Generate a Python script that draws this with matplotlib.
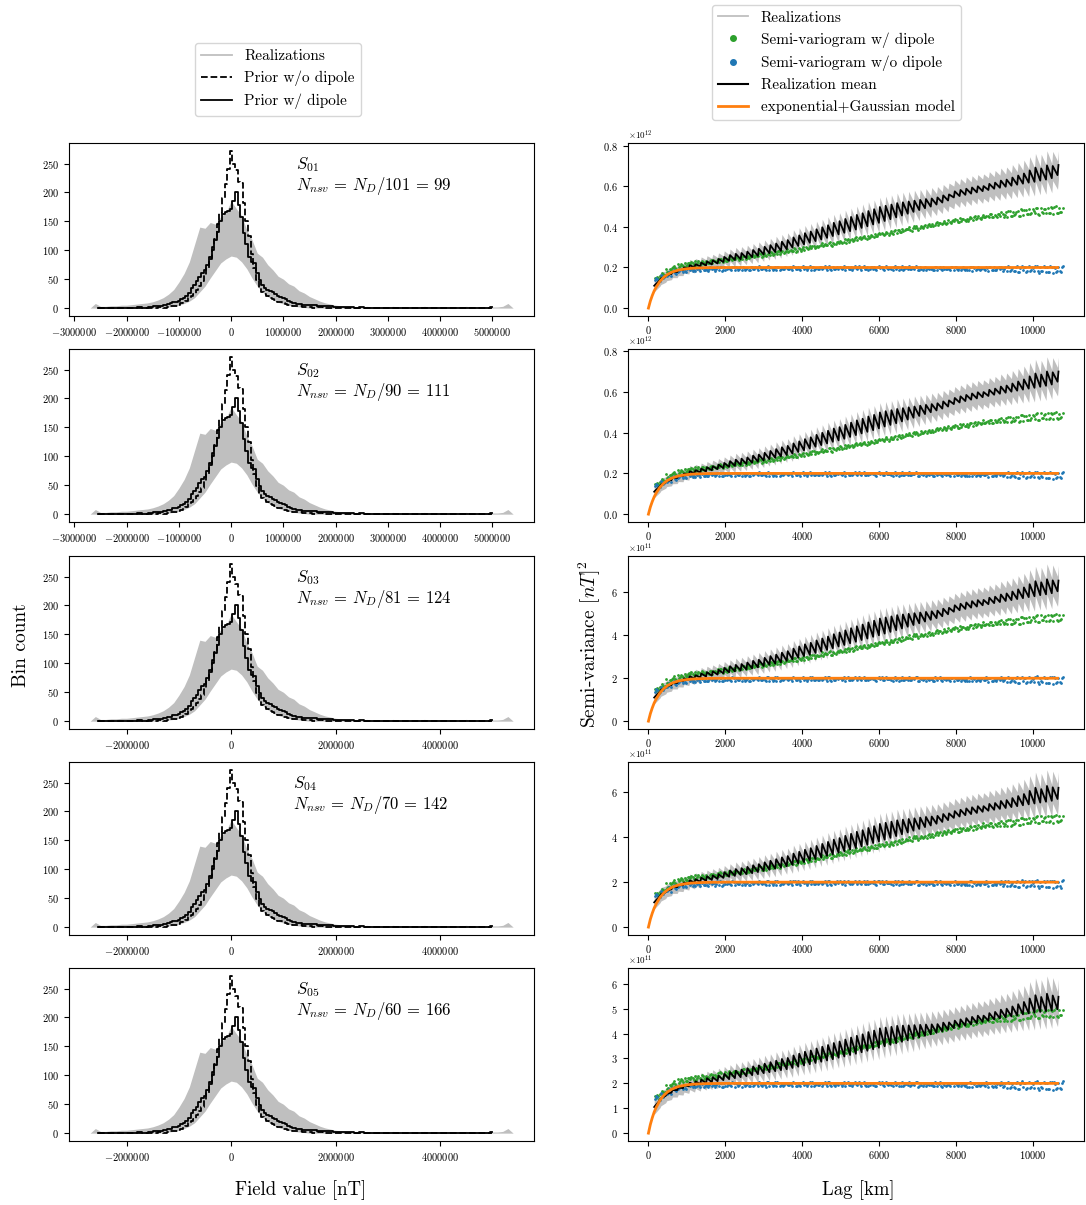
import numpy as np
import matplotlib
matplotlib.use("Agg")
import matplotlib.pyplot as plt
from matplotlib.lines import Line2D

plt.rcParams['font.family'] = 'serif'
plt.rcParams['font.serif'] = ['cmr10']
plt.rcParams['mathtext.fontset'] = 'cm'
plt.rcParams['axes.formatter.use_mathtext'] = True

# --- 1. Data: histograms of field values (left column) ---
# bin centres in 1e4 nT: coarse left tail, fine core, coarse right tail
HIST_X = np.concatenate([np.arange(-255, -124, 10),
                         np.arange(-120, 121, 5),
                         np.arange(130, 501, 10)]) * 1e4

PRIOR_NO_DIPOLE = (
    [0, 0, 0, 1, 0, 0, 1, 0, 1, 0, 1, 1, 2, 1] +
    [2, 3, 3, 4, 6, 8, 10, 13, 17, 21, 25, 32, 38, 46, 58, 70, 85, 100, 120, 145,
     165, 190, 215, 240, 272, 250, 238, 218, 216, 182, 150, 125, 94, 70, 48, 35, 28, 24, 21, 18,
     16, 14, 11, 10, 8, 7, 5, 5, 4] +
    [3, 2, 2, 1, 2, 1, 1, 1, 0, 1, 0, 1, 0, 0, 1, 0, 0, 1, 0, 0,
     0, 1, 0, 0, 0, 1, 0, 0, 0, 0, 1, 0, 0, 0, 0, 1, 0, 1]
)
PRIOR_DIPOLE = (
    [0, 0, 1, 1, 0, 1, 1, 1, 2, 1, 2, 3, 4, 5] +
    [7, 8, 10, 11, 13, 15, 18, 21, 26, 34, 40, 46, 54, 60, 65, 75, 88, 105, 118, 132,
     150, 162, 166, 168, 172, 185, 200, 178, 158, 130, 110, 88, 80, 78, 60, 48, 40, 35, 32, 30,
     27, 24, 21, 19, 17, 15, 12, 10, 9] +
    [7, 6, 5, 5, 4, 3, 3, 2, 2, 2, 2, 1, 2, 1, 1, 1, 1, 1, 1, 1,
     0, 1, 1, 1, 0, 1, 1, 0, 1, 1, 1, 0, 1, 1, 0, 1, 1, 2]
)

# realization envelope, bins of 1e5 nT from -2.7e6 to 5.4e6
REAL_X = np.arange(-270, 541, 10) * 1e4
REAL_HI = (
    [0, 8, 3, 3, 4, 4, 5, 5, 6, 7, 8, 9, 11, 14, 18, 24, 32, 45, 60, 80,
     110, 140, 138, 148, 145, 158, 165, 185, 172, 160, 135, 118, 95, 88, 75, 66, 55, 50, 42, 38,
     30, 26, 20, 16, 12, 9, 7, 5, 4, 3, 3] +
    [2, 2, 3, 2, 2, 2, 2, 3, 2, 2, 2, 2, 2, 3, 2, 2, 2, 2, 2, 2,
     2, 3, 2, 2, 2, 2, 2, 2, 3] +
    [8, 0]
)
REAL_LO = (
    [0] * 14 +
    [1, 2, 3, 5, 8, 12, 18, 28, 38, 52, 65, 78, 85, 90, 88, 80, 68, 52, 38, 28,
     20, 14, 10, 7, 5, 3, 2, 1] +
    [0] * 40
)

# --- 2. Data: semi-variograms (right column), values in 1e11 nT^2 ---
LAG = np.arange(150, 10651, 150)

MEAN_S01 = [1.10, 1.38, 1.55, 1.68, 1.78, 1.88, 1.96, 2.01, 2.06, 2.10,
            2.15, 2.20, 2.27, 2.33, 2.37, 2.41, 2.46, 2.51, 2.57, 2.64,
            2.70, 2.76, 2.82, 2.90, 2.98, 3.06, 3.14, 3.22, 3.30, 3.38,
            3.46, 3.55, 3.63, 3.71, 3.79, 3.87, 3.95, 4.03, 4.12, 4.20,
            4.29, 4.38, 4.47, 4.56, 4.65, 4.74, 4.83, 4.92, 5.00, 5.10,
            5.20, 5.30, 5.45, 5.52, 5.58, 5.64, 5.70, 5.76, 5.82, 5.88,
            5.93, 5.98, 6.03, 6.08, 6.13, 6.18, 6.22, 6.28, 6.33, 6.40,
            6.55]
MEAN_S02 = [1.10, 1.37, 1.55, 1.67, 1.78, 1.87, 1.95, 2.01, 2.05, 2.10,
            2.15, 2.21, 2.26, 2.32, 2.37, 2.42, 2.46, 2.52, 2.57, 2.63,
            2.70, 2.77, 2.83, 2.90, 2.97, 3.05, 3.13, 3.22, 3.31, 3.39,
            3.47, 3.55, 3.62, 3.70, 3.79, 3.88, 3.96, 4.04, 4.12, 4.21,
            4.30, 4.38, 4.46, 4.55, 4.64, 4.73, 4.82, 4.91, 5.00, 5.09,
            5.18, 5.28, 5.40, 5.48, 5.55, 5.62, 5.68, 5.74, 5.80, 5.86,
            5.91, 5.96, 6.01, 6.06, 6.11, 6.16, 6.20, 6.25, 6.30, 6.36,
            6.50]
MEAN_S03 = [1.10, 1.38, 1.55, 1.68, 1.78, 1.87, 1.94, 1.99, 2.04, 2.08,
            2.12, 2.17, 2.23, 2.28, 2.32, 2.36, 2.41, 2.46, 2.51, 2.57,
            2.63, 2.68, 2.74, 2.81, 2.88, 2.96, 3.03, 3.10, 3.18, 3.25,
            3.32, 3.40, 3.48, 3.55, 3.63, 3.70, 3.78, 3.85, 3.93, 4.00,
            4.08, 4.16, 4.24, 4.32, 4.40, 4.48, 4.56, 4.64, 4.72, 4.80,
            4.89, 4.98, 5.10, 5.17, 5.23, 5.29, 5.34, 5.40, 5.45, 5.50,
            5.55, 5.60, 5.64, 5.69, 5.73, 5.78, 5.82, 5.87, 5.91, 5.96,
            6.05]
MEAN_S04 = [1.10, 1.38, 1.55, 1.68, 1.78, 1.86, 1.93, 1.98, 2.02, 2.06,
            2.10, 2.14, 2.19, 2.24, 2.28, 2.32, 2.36, 2.40, 2.45, 2.50,
            2.55, 2.60, 2.65, 2.71, 2.77, 2.83, 2.89, 2.96, 3.03, 3.10,
            3.17, 3.24, 3.31, 3.38, 3.45, 3.52, 3.59, 3.66, 3.74, 3.81,
            3.89, 3.97, 4.05, 4.13, 4.21, 4.29, 4.37, 4.45, 4.52, 4.60,
            4.68, 4.76, 4.86, 4.92, 4.98, 5.03, 5.08, 5.13, 5.18, 5.22,
            5.26, 5.30, 5.34, 5.38, 5.42, 5.46, 5.50, 5.54, 5.58, 5.62,
            5.70]
MEAN_S05 = [1.05, 1.32, 1.50, 1.63, 1.73, 1.81, 1.88, 1.93, 1.97, 2.01,
            2.05, 2.09, 2.13, 2.17, 2.21, 2.25, 2.29, 2.33, 2.37, 2.41,
            2.45, 2.49, 2.53, 2.57, 2.62, 2.67, 2.72, 2.77, 2.82, 2.87,
            2.92, 2.97, 3.03, 3.08, 3.14, 3.19, 3.25, 3.31, 3.37, 3.43,
            3.49, 3.55, 3.61, 3.67, 3.73, 3.79, 3.85, 3.91, 3.97, 4.03,
            4.09, 4.15, 4.22, 4.27, 4.32, 4.37, 4.42, 4.47, 4.52, 4.57,
            4.61, 4.65, 4.69, 4.73, 4.77, 4.81, 4.84, 4.87, 4.90, 4.93,
            4.98]

# height of the periodic teeth on the realization mean
MEAN_TEETH = [0.05, 0.08, 0.08, 0.10, 0.10, 0.12,
              0.15, 0.15, 0.18, 0.20, 0.20, 0.22, 0.25,
              0.28, 0.30, 0.30, 0.32, 0.35, 0.35, 0.38,
              0.40, 0.42, 0.45, 0.45, 0.50, 0.52, 0.55,
              0.55, 0.58, 0.60, 0.62, 0.65, 0.65, 0.68,
              0.70, 0.72, 0.72, 0.75, 0.75, 0.78, 0.75,
              0.72, 0.70, 0.65, 0.60, 0.55, 0.50, 0.45,
              0.40, 0.35, 0.35, 0.30, 0.30, 0.30, 0.30,
              0.30, 0.30, 0.25, 0.30, 0.30, 0.35, 0.35,
              0.40, 0.45, 0.50, 0.60, 0.70, 0.60, 0.70,
              0.60, 0.50]

# half-width of the realization spread around the mean
REAL_SPREAD = [0.30, 0.30, 0.28, 0.28, 0.28, 0.28, 0.28, 0.28, 0.28, 0.28,
               0.30, 0.30, 0.30, 0.30, 0.32, 0.32, 0.32, 0.32, 0.34, 0.34,
               0.34, 0.36, 0.36, 0.36, 0.38, 0.38, 0.38, 0.40, 0.40, 0.40,
               0.42, 0.42, 0.42, 0.44, 0.44, 0.44, 0.46, 0.46, 0.46, 0.48,
               0.48, 0.48, 0.50, 0.50, 0.50, 0.52, 0.52, 0.52, 0.54, 0.54,
               0.54, 0.56, 0.56, 0.56, 0.58, 0.58, 0.58, 0.60, 0.60, 0.60,
               0.62, 0.62, 0.64, 0.64, 0.66, 0.68, 0.70, 0.70, 0.72, 0.72,
               0.70]

SV_DIPOLE = [1.45, 1.65, 1.85, 2.00, 2.10, 2.15, 2.20, 2.22, 2.25, 2.28,
             2.31, 2.35, 2.38, 2.42, 2.45, 2.49, 2.53, 2.57, 2.61, 2.65,
             2.69, 2.73, 2.77, 2.82, 2.86, 2.91, 2.96, 3.01, 3.06, 3.11,
             3.16, 3.21, 3.27, 3.32, 3.37, 3.43, 3.48, 3.53, 3.59, 3.64,
             3.69, 3.75, 3.80, 3.86, 3.91, 3.96, 4.01, 4.06, 4.11, 4.16,
             4.21, 4.26, 4.30, 4.35, 4.39, 4.43, 4.47, 4.51, 4.55, 4.58,
             4.61, 4.64, 4.67, 4.70, 4.73, 4.75, 4.78, 4.80, 4.82, 4.83,
             4.84]
SV_NO_DIPOLE = [1.40, 1.55, 1.68, 1.78, 1.85, 1.89, 1.91, 1.92, 1.93, 1.93,
                1.94, 1.94, 1.94, 1.95, 1.95, 1.95, 1.95, 1.96, 1.96, 1.96,
                1.96, 1.96, 1.96, 1.96, 1.97, 1.97, 1.97, 1.97, 1.97, 1.97,
                1.97, 1.97, 1.98, 1.98, 1.98, 1.98, 1.98, 1.98, 1.97, 1.97,
                1.97, 1.97, 1.97, 1.96, 1.96, 1.96, 1.96, 1.96, 1.96, 1.95,
                1.95, 1.95, 1.95, 1.95, 1.95, 1.94, 1.94, 1.94, 1.94, 1.94,
                1.94, 1.94, 1.93, 1.93, 1.93, 1.92, 1.92, 1.92, 1.91, 1.91,
                1.92]

# scatter of the individual semi-variogram points about the curves (1e9 nT^2)
SCATTER_A = [5, -8, 10, -4, 6, -10, 3, 8, -6, 2,
             -9, 7, -3, 9, -5, 1, -7, 6, -2, 8,
             -8, 4, -1, 7, -6, 3, -9, 5, -3, 9,
             -4, 2, -7, 6, -1, 8, -5, 3, -8, 7,
             -2, 5, -9, 4, -3, 8, -6, 1, -7, 9,
             -4, 6, -2, 7, -8, 3, -5, 10, -6, 2,
             -9, 8, -12, 6, -14, 11, -9, 15, -13, 8,
             -16]
SCATTER_B = [-3, 6, -9, 2, -7, 5, -2, -8, 7, -4,
             4, -6, 8, -2, 6, -8, 3, -5, 9, -3,
             6, -7, 2, -4, 8, -2, 5, -7, 1, -6,
             7, -3, 5, -9, 4, -6, 2, -8, 6, -1,
             8, -4, 3, -6, 9, -1, 5, -8, 2, -5,
             7, -3, 8, -6, 1, -9, 6, -2, 7, -4,
             10, -13, 5, -16, 9, -11, 14, -7, 12, -18,
             9]
SCATTER_C = [8, 1, -5, 9, -2, -6, 7, -1, 4, -8,
             1, 9, -4, -7, 2, 7, -6, -1, 5, -9,
             2, 8, -5, -1, 6, -8, 1, 7, -4, 0,
             9, -6, 1, 4, -8, 2, 7, -3, -6, 5,
             1, -8, 6, -2, -5, 9, -1, 3, -8, 4,
             0, -7, 5, 2, -9, 6, -1, -4, 8, -7,
             3, 12, -8, -15, 10, -5, 17, -10, -14, 13,
             -11]

MODEL_LAG = [0, 50, 100, 150, 200, 300, 400, 500, 600, 700, 800, 1000,
             1200, 1500, 2000, 4000, 6000, 8000, 10000, 10650]
MODEL_SV = [0.0, 0.35, 0.62, 0.85, 1.03, 1.32, 1.52, 1.66, 1.76, 1.83, 1.88, 1.94,
            1.97, 1.99, 2.0, 2.0, 2.0, 2.0, 2.0, 2.0]

PANEL_IDS = ['01', '02', '03', '04', '05']
DIVISORS = [101, 90, 81, 70, 60]
N_NSV = [99, 111, 124, 142, 166]
MEANS = [MEAN_S01, MEAN_S02, MEAN_S03, MEAN_S04, MEAN_S05]

GREY = '#bfbfbf'
GREEN = '#2ca02c'
BLUE = '#1f77b4'
ORANGE = '#ff7f0e'

# --- 3. Figure layout ---
fig = plt.figure(figsize=(10.86, 12.05), dpi=100)
row_bottoms = [0.7378, 0.5668, 0.3950, 0.2241, 0.0531]
row_h = 0.1436

green_rows = [(10, SCATTER_A, 1), (40, SCATTER_B, 1), (70, SCATTER_C, 1),
              (100, SCATTER_B, -1), (130, SCATTER_C, -1)]
blue_rows = [(25, SCATTER_B, 1), (55, SCATTER_C, 1), (85, SCATTER_A, 1),
             (115, SCATTER_C, -1), (145, SCATTER_A, -1)]

for i in range(5):
    axl = fig.add_axes([0.0635, row_bottoms[i], 0.4285, row_h])
    axr = fig.add_axes([0.578, row_bottoms[i], 0.42, row_h])

    # left: histograms
    axl.fill_between(REAL_X, REAL_LO, REAL_HI, color=GREY, lw=0)
    axl.plot(HIST_X, PRIOR_NO_DIPOLE, color='k', ls='--', lw=1.3, drawstyle='steps-mid')
    axl.plot(HIST_X, PRIOR_DIPOLE, color='k', ls='-', lw=1.3, drawstyle='steps-mid')
    if i < 2:
        axl.set_xticks(np.arange(-3, 6) * 1e6)
    else:
        axl.set_xticks([-2e6, 0, 2e6, 4e6])
    axl.set_yticks([0, 50, 100, 150, 200, 250])
    axl.ticklabel_format(axis='x', style='plain', useOffset=False)
    axl.tick_params(labelsize=7.5)
    tx = 0.482 if i == 3 else 0.488
    axl.text(tx, 0.93, r"$S_{%s}$" % PANEL_IDS[i] + "\n" +
             r"$N_{nsv}\,=\,N_D/%d\,=\,%d$" % (DIVISORS[i], N_NSV[i]),
             transform=axl.transAxes, va='top', ha='left', fontsize=12, linespacing=1.05)

    # right: semi-variograms
    base = np.array(MEANS[i])
    x_mean = np.column_stack([LAG, LAG + 25]).ravel()
    y_mean = np.column_stack([base, base + np.array(MEAN_TEETH)]).ravel() * 1e11
    spread = np.repeat(REAL_SPREAD, 2) * 1e11
    axr.fill_between(x_mean, y_mean - spread, y_mean + spread, color=GREY, lw=0)
    for off, jit, sign in green_rows:
        axr.scatter(LAG + off, (np.array(SV_DIPOLE) + sign * np.array(jit) / 100) * 1e11,
                    s=4, color=GREEN, lw=0)
    for off, jit, sign in blue_rows:
        axr.scatter(LAG + off, (np.array(SV_NO_DIPOLE) + sign * np.array(jit) / 100) * 1e11,
                    s=4, color=BLUE, lw=0)
    axr.plot(x_mean, y_mean, color='k', lw=1.3)
    axr.plot(MODEL_LAG, np.array(MODEL_SV) * 1e11, color=ORANGE, lw=2)

    axr.set_xticks([0, 2000, 4000, 6000, 8000, 10000])
    if i < 2:
        axr.set_yticks(np.array([0, 0.2, 0.4, 0.6, 0.8]) * 1e12)
        axr.ticklabel_format(axis='y', style='sci', scilimits=(12, 12))
    elif i < 4:
        axr.set_yticks(np.array([0, 2, 4, 6]) * 1e11)
        axr.ticklabel_format(axis='y', style='sci', scilimits=(11, 11))
    else:
        axr.set_yticks(np.arange(0, 7) * 1e11)
        axr.ticklabel_format(axis='y', style='sci', scilimits=(11, 11))
    axr.tick_params(labelsize=7.5)
    axr.tick_params(axis='x', pad=2.5)
    axr.yaxis.get_offset_text().set_fontsize(6.5)

# --- 4. Labels and legends ---
fig.text(0.019, 0.465, "Bin count", rotation=90, ha='center', va='center', fontsize=14)
fig.text(0.543, 0.465, r"Semi-variance $[nT]^2$", rotation=90, ha='center', va='center', fontsize=14)
fig.text(0.277, 0.012, "Field value [nT]", ha='center', va='center', fontsize=13.5)
fig.text(0.790, 0.012, "Lag [km]", ha='center', va='center', fontsize=13.5)

left_handles = [Line2D([], [], color=GREY, lw=1.3),
                Line2D([], [], color='k', ls='--', lw=1.3),
                Line2D([], [], color='k', lw=1.3)]
fig.legend(left_handles, ["Realizations", "Prior w/o dipole", "Prior w/ dipole"],
           loc='upper center', bbox_to_anchor=(0.256, 0.964), fontsize=11,
           handlelength=2.0, labelspacing=0.5, borderaxespad=0)

right_handles = [Line2D([], [], color=GREY, lw=1.3),
                 Line2D([], [], color=GREEN, ls='', marker='o', ms=4),
                 Line2D([], [], color=BLUE, ls='', marker='o', ms=4),
                 Line2D([], [], color='k', lw=1.5),
                 Line2D([], [], color=ORANGE, lw=2)]
fig.legend(right_handles, ["Realizations", "Semi-variogram w/ dipole", "Semi-variogram w/o dipole",
                           "Realization mean", "exponential+Gaussian model"],
           loc='upper center', bbox_to_anchor=(0.770, 0.996), fontsize=11,
           handlelength=2.0, labelspacing=0.5, borderaxespad=0)

fig.savefig("out.png", dpi=100)
